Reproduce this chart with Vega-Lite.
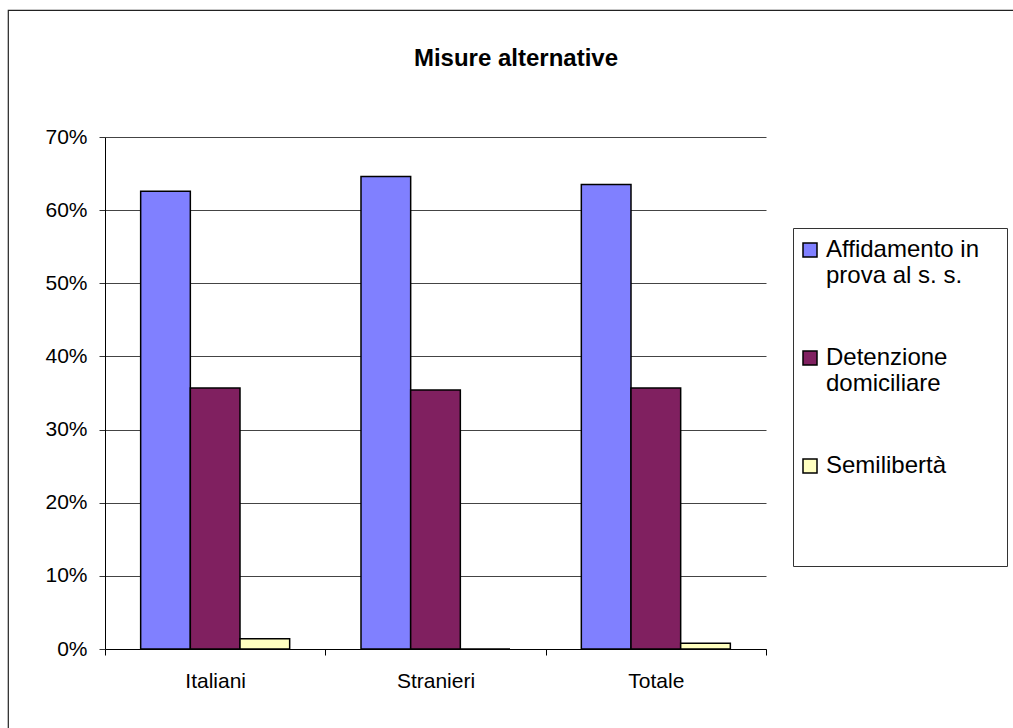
{
  "$schema": "https://vega.github.io/schema/vega-lite/v6.json",
  "autosize": {"type": "none"},
  "padding": {"left": 8, "top": 10, "right": 0, "bottom": 0},
  "width": 1010,
  "height": 723,
  "background": "white",
  "config": {
    "view": {"stroke": "#222222", "strokeWidth": 1.2},
    "font": "Liberation Sans"
  },
  "title": {
    "text": "Misure alternative",
    "font": "Liberation Sans",
    "fontSize": 24,
    "fontWeight": "bold",
    "color": "black",
    "frame": "group",
    "anchor": "middle",
    "baseline": "alphabetic",
    "offset": -80,
    "dx": 3
  },
  "data": {
    "values": [
      {"gruppo": "Italiani", "misura": "Affidamento in prova al s. s.", "valore": 0.626},
      {"gruppo": "Italiani", "misura": "Detenzione domiciliare", "valore": 0.357},
      {"gruppo": "Italiani", "misura": "Semilibertà", "valore": 0.014},
      {"gruppo": "Stranieri", "misura": "Affidamento in prova al s. s.", "valore": 0.646},
      {"gruppo": "Stranieri", "misura": "Detenzione domiciliare", "valore": 0.354},
      {"gruppo": "Stranieri", "misura": "Semilibertà", "valore": 0.0},
      {"gruppo": "Totale", "misura": "Affidamento in prova al s. s.", "valore": 0.635},
      {"gruppo": "Totale", "misura": "Detenzione domiciliare", "valore": 0.357},
      {"gruppo": "Totale", "misura": "Semilibertà", "valore": 0.008}
    ]
  },
  "mark": {"type": "bar", "stroke": "black", "strokeWidth": 1.5},
  "encoding": {
    "x": {
      "field": "gruppo",
      "type": "nominal",
      "sort": ["Italiani", "Stranieri", "Totale"],
      "scale": {"range": [97, 758], "paddingInner": 0, "paddingOuter": 0},
      "axis": {
        "title": null,
        "offset": -84,
        "labelAngle": 0,
        "labelFont": "Liberation Sans",
        "labelFontSize": 21,
        "labelColor": "black",
        "labelPadding": 15,
        "tickSize": 6,
        "tickColor": "black",
        "domainColor": "black",
        "tickBand": "extent",
        "grid": false
      }
    },
    "xOffset": {
      "field": "misura",
      "type": "nominal",
      "sort": ["Affidamento in prova al s. s.", "Detenzione domiciliare", "Semilibertà"],
      "scale": {"paddingInner": 0, "paddingOuter": 0.718}
    },
    "y": {
      "field": "valore",
      "type": "quantitative",
      "scale": {"domain": [0, 0.7], "range": [639, 127], "nice": false, "zero": true},
      "axis": {
        "title": null,
        "offset": -97,
        "values": [0, 0.1, 0.2, 0.3, 0.4, 0.5, 0.6, 0.7],
        "format": ".0%",
        "labelFont": "Liberation Sans",
        "labelFontSize": 21,
        "labelColor": "black",
        "labelPadding": 12,
        "tickSize": 6,
        "tickColor": "#333333",
        "domainColor": "black",
        "grid": true,
        "gridColor": "#444444",
        "gridWidth": 1
      }
    },
    "color": {
      "field": "misura",
      "type": "nominal",
      "sort": ["Affidamento in prova al s. s.", "Detenzione domiciliare", "Semilibertà"],
      "scale": {
        "domain": ["Affidamento in prova al s. s.", "Detenzione domiciliare", "Semilibertà"],
        "range": ["#8080FF", "#802060", "#FFFFC0"]
      },
      "legend": {
        "title": null,
        "orient": "none",
        "legendX": 785,
        "legendY": 218,
        "strokeColor": "#333333",
        "fillColor": "white",
        "padding": 10,
        "symbolType": "square",
        "symbolSize": 196,
        "symbolOffset": -5,
        "symbolStrokeColor": "black",
        "symbolStrokeWidth": 1.5,
        "symbolOpacity": 1,
        "labelFont": "Liberation Sans",
        "labelFontSize": 24,
        "labelColor": "black",
        "labelOffset": 4,
        "labelLimit": 400,
        "rowPadding": 58,
        "labelExpr": "datum.label == 'Affidamento in prova al s. s.' ? ['Affidamento in\u2800', 'prova al s. s.'] : datum.label == 'Detenzione domiciliare' ? ['Detenzione', 'domiciliare'] : ['Semilibertà', '', '', '']"
      }
    }
  }
}
